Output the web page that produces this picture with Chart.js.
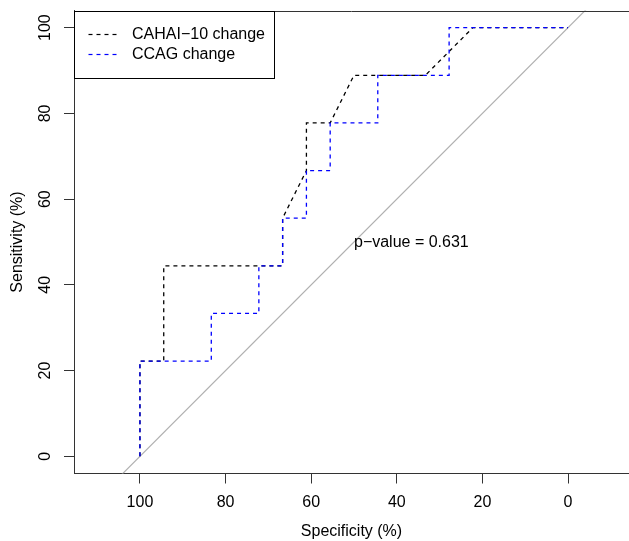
<!DOCTYPE html>
<html>
<head>
<meta charset="utf-8">
<script src="https://cdn.jsdelivr.net/npm/chart.js@4"></script>
<style>
  html, body { margin: 0; padding: 0; background: #fff; overflow: hidden; }
  canvas { display: block; }
</style>
</head>
<body>
<canvas id="c" width="629" height="541"></canvas>
<script>
// ---- data ----
const cahaiSpec = [100, 100, 94.44, 94.44, 66.67, 66.67, 61.11, 61.11, 55.56, 50, 33.33, 22.22, 0];
const cahaiSens = [0, 22.22, 22.22, 44.44, 44.44, 55.56, 66.67, 77.78, 77.78, 88.89, 88.89, 100, 100];
const ccagSpec = [100, 100, 83.33, 83.33, 72.22, 72.22, 66.67, 66.67, 61.11, 61.11, 55.56, 55.56, 44.44, 44.44, 27.78, 27.78, 0];
const ccagSens = [0, 22.22, 22.22, 33.33, 33.33, 44.44, 44.44, 55.56, 55.56, 66.67, 66.67, 77.78, 77.78, 88.89, 88.89, 100, 100];
const diagSpec = [130, -30];
const diagSens = [-30, 130];
const xTicks = [100, 80, 60, 40, 20, 0];
const yTicks = [0, 20, 40, 60, 80, 100];
const seriesNames = ['CAHAI\u221210 change', 'CCAG change'];
const pValueText = 'p\u2212value = 0.631';
const pValueAt = [50, 50];

const FONT = '"Liberation Sans", Arial, Helvetica, sans-serif';
const toPts = (xs, ys) => xs.map((v, i) => ({x: v, y: ys[i]}));
const DASH = [4, 4];

const overlay = {
  id: 'overlay',
  afterDraw(chart) {
    const ctx = chart.ctx;
    const a = chart.chartArea;
    const xs = chart.scales.x, ys = chart.scales.y;
    ctx.save();
    // top border of the plot box
    ctx.strokeStyle = '#333';
    ctx.lineWidth = 1;
    ctx.setLineDash([]);
    ctx.beginPath();
    ctx.moveTo(a.left, Math.round(a.top) + 0.5);
    ctx.lineTo(a.right, Math.round(a.top) + 0.5);
    ctx.stroke();
    // legend box
    const bx = Math.round(a.left) + 0.5, by = Math.round(a.top) + 0.5;
    ctx.fillStyle = '#fff';
    ctx.fillRect(bx, by, 200, 67);
    ctx.strokeStyle = '#000';
    ctx.strokeRect(bx, by, 200, 67);
    const colors = ['#000', '#0000ff'];
    ctx.font = '16px ' + FONT;
    ctx.textBaseline = 'middle';
    ctx.textAlign = 'left';
    seriesNames.forEach((name, i) => {
      const yy = by + 23 + i * 20;
      ctx.strokeStyle = colors[i];
      ctx.lineWidth = 1.2;
      ctx.setLineDash(DASH);
      ctx.beginPath();
      ctx.moveTo(bx + 14, yy);
      ctx.lineTo(bx + 43, yy);
      ctx.stroke();
      ctx.setLineDash([]);
      ctx.fillStyle = '#000';
      ctx.fillText(name, bx + 57.5, yy);
    });
    // p-value annotation
    ctx.fillStyle = '#000';
    ctx.fillText(pValueText, xs.getPixelForValue(pValueAt[0]), ys.getPixelForValue(pValueAt[1]) + 1);
    ctx.restore();
  }
};

new Chart(document.getElementById('c'), {
  type: 'scatter',
  data: {
    datasets: [
      { label: seriesNames[1], data: toPts(ccagSpec, ccagSens), showLine: true,
        borderColor: '#0000ff', borderWidth: 1.3, borderDash: DASH, pointRadius: 0, tension: 0, fill: false },
      { label: seriesNames[0], data: toPts(cahaiSpec, cahaiSens), showLine: true,
        borderColor: '#000', borderWidth: 1.3, borderDash: DASH, pointRadius: 0, tension: 0, fill: false },
      { label: 'identity', data: toPts(diagSpec, diagSens), showLine: true,
        borderColor: '#b0b0b0', borderWidth: 1.2, pointRadius: 0, tension: 0, fill: false }
    ]
  },
  options: {
    responsive: false,
    animation: false,
    devicePixelRatio: 1,
    layout: { padding: { top: 10.5, left: 0, right: 0, bottom: 0 } },
    plugins: { legend: { display: false }, tooltip: { enabled: false } },
    scales: {
      x: {
        type: 'linear', reverse: true, min: -14.24, max: 115.4,
        afterBuildTicks: s => { s.ticks = xTicks.map(v => ({value: v})); },
        afterFit: s => { s.height = 67.5; s.paddingLeft = 0; s.paddingRight = 0; },
        grid: { drawOnChartArea: false, drawTicks: true, tickLength: 10, color: '#333', lineWidth: 1 },
        border: { display: true, color: '#333', width: 1 },
        ticks: { color: '#000', font: { family: FONT, size: 16 }, padding: 9.5, maxRotation: 0, minRotation: 0 },
        title: { display: true, text: 'Specificity (%)', color: '#000', font: { family: FONT, size: 16 }, padding: { top: 0, bottom: 0 } }
      },
      y: {
        type: 'linear', min: -4, max: 104,
        afterBuildTicks: s => { s.ticks = yTicks.map(v => ({value: v})); },
        afterFit: s => { s.width = 74; s.paddingTop = 0; s.paddingBottom = 0; },
        grid: { drawOnChartArea: false, drawTicks: true, tickLength: 10, color: '#333', lineWidth: 1 },
        border: { display: true, color: '#333', width: 1 },
        ticks: { color: '#000', font: { family: FONT, size: 16 }, padding: 5, minRotation: 90, maxRotation: 90, crossAlign: 'center' },
        title: { display: true, text: 'Sensitivity (%)', color: '#000', font: { family: FONT, size: 16 }, padding: { top: 8.4, bottom: 0 } }
      }
    }
  },
  plugins: [overlay]
});
</script>
</body>
</html>
